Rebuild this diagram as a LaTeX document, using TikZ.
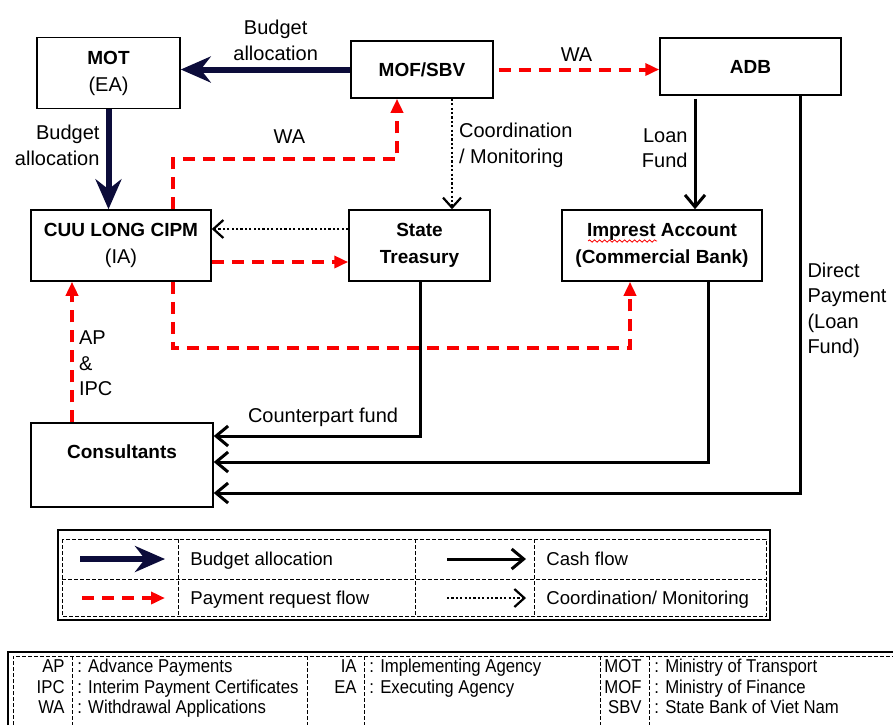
\documentclass[tikz,border=0pt]{standalone}
\usepackage{fontspec}
\setmainfont{Liberation Sans}
\newfontfamily\narrowfont[FakeStretch=0.9]{Liberation Sans}
\usetikzlibrary{arrows.meta,decorations.pathmorphing}
\definecolor{navyflow}{RGB}{12,12,58}
\definecolor{payred}{RGB}{250,0,0}
\newcommand{\boxtitle}[1]{{\fontsize{9.5}{13.5}\selectfont\bfseries #1}}

\begin{document}
\begin{tikzpicture}[
  x=0.5pt, y=-0.5pt,
  font=\fontsize{10}{12.7}\selectfont,
  box/.style={draw, line width=0.75pt, inner sep=0pt, align=center, font=\fontsize{10}{13.5}\selectfont},
  budgetflow/.style={draw=navyflow, line width=3pt, -{Stealth[length=15pt, width=13pt, inset=5pt]}},
  cashflow/.style={draw=black, line width=1.5pt, -{Straight Barb[length=6pt, width=10pt]}},
  payflow/.style={draw=payred, line width=2pt, dash pattern=on 6pt off 4pt, -{Triangle[length=7pt, width=6pt]}},
  coordflow/.style={draw=black, line width=1.1pt, dash pattern=on 1.1pt off 1.1pt, -{Straight Barb[length=5pt, width=9pt]}},
  lbl/.style={inner sep=3pt, align=left},
  gridline/.style={line width=0.5pt, dash pattern=on 2pt off 1pt},
  legtext/.style={anchor=base west, inner sep=0pt, font=\fontsize{9.3}{11}\selectfont},
  glo/.style={inner sep=0pt, font=\narrowfont\fontsize{9.3}{10}\selectfont}
]
\useasboundingbox (0,0) rectangle (893,725);

\node[box, minimum width=71.5pt, minimum height=35.5pt] (mot) at (108.5,73) {\boxtitle{MOT}\\(EA)};
\node[box, minimum width=71pt, minimum height=28.5pt] (mof) at (422,69.5) {\boxtitle{MOF/SBV}};
\node[box, minimum width=90.5pt, minimum height=28.5pt] (adb) at (750.5,66.5) {\boxtitle{ADB}};
\node[box, minimum width=90pt, minimum height=35.5pt] (cipm) at (121,245.5) {\boxtitle{CUU LONG CIPM}\\(IA)};
\node[box, minimum width=70.5pt, minimum height=35.5pt] (st) at (419.5,245.5) {\boxtitle{State}\\\boxtitle{Treasury}};
\node[box, minimum width=100pt, minimum height=35.5pt] (imp) at (662,245.5) {\boxtitle{Imprest Account}\\\boxtitle{(Commercial Bank)}};
\node[box, minimum width=91pt, minimum height=42pt] (cons) at (122,465) {\boxtitle{Consultants}\\\mbox{}};
\draw[payred, line width=0.4pt, decorate, decoration={snake, amplitude=0.6pt, segment length=2.5pt}] (588,241) -- (657,241);

\coordinate (cm) at (452,0);
\coordinate (lf) at (695,0);
\coordinate (dp) at (800,493);
\coordinate (cf) at (420,436);
\coordinate (ic) at (708,462);
\coordinate (r1) at (0,229);
\coordinate (r2) at (0,262);
\coordinate (wa1) at (173,159);
\coordinate (wa2) at (397,159);
\coordinate (ia1) at (173,348);
\coordinate (ia2) at (630,348);
\coordinate (ap) at (72,0);

\draw[budgetflow] (mof.west) -- node[lbl, above, align=center, pos=0.44] {Budget\\allocation} (mof.west -| mot.east);
\draw[budgetflow] (mot.south) -- node[lbl, left, align=right, pos=0.36] {Budget\\allocation} (mot.south |- cipm.north);
\draw[payflow, shorten <=2.5pt] (mof.east) -- node[lbl, above] {WA} (mof.east -| adb.west);
\draw[coordflow] (mof.south -| cm) -- node[lbl, right, pos=0.42] {Coordination\\/ Monitoring} (st.north -| cm);
\draw[cashflow, shorten <=1.5pt] (adb.south -| lf) -- node[lbl, left, align=right, pos=0.46] {Loan\\Fund} (imp.north -| lf);
\draw[cashflow] (adb.south -| dp) -- node[lbl, right, pos=0.54] {Direct\\Payment\\(Loan\\Fund)} (dp) -- (dp -| cons.east);
\draw[cashflow] (st.south -| cf) -- (cf) -- node[lbl, above, inner sep=4pt, pos=0.47] {Counterpart fund} (cf -| cons.east);
\draw[cashflow] (imp.south -| ic) -- (ic) -- (ic -| cons.east);
\draw[coordflow] (st.west |- r1) -- (cipm.east |- r1);
\draw[payflow] (cipm.east |- r2) -- (st.west |- r2);
\draw[payflow] (cipm.north -| wa1) -- (wa1) -- node[lbl, above=4pt, pos=0.52] {WA} (wa2) -- (wa2 |- mof.south);
\draw[payflow] (cipm.south -| ia1) -- (ia1) -- (ia2) -- (ia2 |- imp.south);
\draw[payflow] (cons.north -| ap) -- node[lbl, right, inner sep=2.5pt, pos=0.42] {AP\\\&\\IPC} (cipm.south -| ap);

\draw[line width=0.6pt] (58,530) rectangle (770,620);
\draw[gridline] (62,539) rectangle (766,616);
\draw[gridline] (62,579) -- (766,579);
\foreach \xx in {178,415,534}
  \draw[gridline] (\xx,539) -- (\xx,616);
\foreach \st/\xa/\xb/\yy [count=\i] in {budgetflow/80/165/559, cashflow/447/526/559, payflow/82/165/598, coordflow/447/526/598} {
  \coordinate (la\i) at (\xa,\yy);
  \coordinate (lb\i) at (\xb,\yy);
  \draw[\st] (la\i) -- (lb\i);
}
\node[legtext] (lt1) at (190,565) {Budget allocation};
\node[legtext] (lt2) at (546,565) {Cash flow};
\node[legtext] (lt3) at (190,604) {Payment request flow};
\node[legtext] (lt4) at (546,604) {Coordination/ Monitoring};

\draw[line width=0.6pt] (8,725) -- (8,652) -- (893,652);
\draw[gridline] (13,725) -- (13,656) -- (893,656);
\foreach \xx in {72,307,364,600,649}
  \draw[gridline] (\xx,656) -- (\xx,725);
\foreach \ab/\tx/\cx/\yy [count=\i] in {AP/Advance Payments/72/667, IPC/Interim Payment Certificates/72/688, WA/Withdrawal Applications/72/708, IA/Implementing Agency/364/667, EA/Executing Agency/364/688, MOT/Ministry of Transport/649/667, MOF/Ministry of Finance/649/688, SBV/State Bank of Viet Nam/649/708} {
  \node[glo, anchor=base east] (ga\i) at (\cx-7,\yy+5) {\ab};
  \node[glo, anchor=base west] (gt\i) at (\cx+5,\yy+5) {: \tx};
}
\end{tikzpicture}
\end{document}
